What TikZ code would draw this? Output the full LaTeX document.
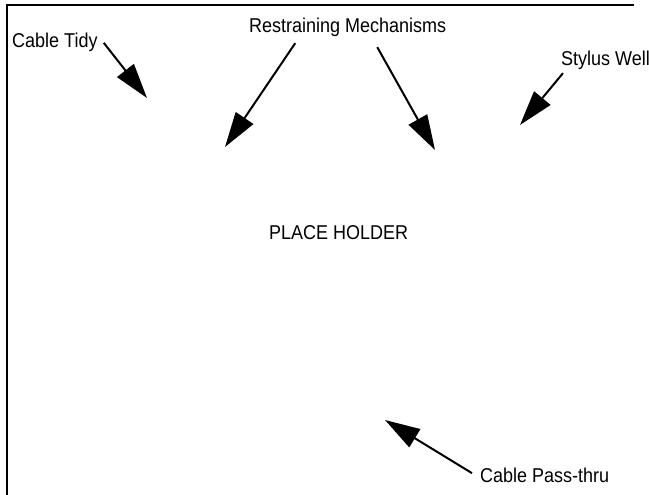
\documentclass[tikz,border=0pt]{standalone}
\usepackage{fontspec}
\setmainfont[FakeStretch=0.9]{Liberation Sans}
\usepackage{tikz}
\usetikzlibrary{arrows.meta,calc,positioning}
\tikzset{
  >={Triangle[length=35pt,width=21pt]},
  frame/.style  ={line width=2pt,black},
  callout/.style={->,line width=2pt,black},
  txt/.style    ={inner sep=0pt,font=\fontsize{20}{24}\selectfont},
}

\begin{document}
\begin{tikzpicture}[x=1pt,y=-1pt]
  \useasboundingbox (0,0) rectangle (649,495);
  \draw[frame] (6.7,496) -- (6.7,4.7) -- (634,4.7);
  \node[txt,anchor=base west] (tidy)   at (12,48)     {Cable Tidy};
  \node[txt,anchor=base west] (mech)   at (249,33)    {Restraining Mechanisms};
  \node[txt,anchor=base west] (stylus) at (561,65.5)  {Stylus Well};
  \node[txt,anchor=base west] (holder) at (269,240)   {PLACE HOLDER};
  \node[txt,anchor=base west] (pass)   at (480,482.3) {Cable Pass-thru};
  \coordinate (tidyTip)   at (147,98);
  \coordinate (mechTipL)  at (225,147);
  \coordinate (mechTipR)  at (435,150);
  \coordinate (stylusTip) at (520,125);
  \coordinate (passTip)   at (385,420);
  \draw[callout] ([xshift=6pt]tidy.east) -- (tidyTip);
  \draw[callout] ([xshift=-52.5pt,yshift=-5.8pt]mech.south) -- (mechTipL);
  \draw[callout] ([xshift=29.5pt,yshift=-9.8pt]mech.south) -- (mechTipR);
  \draw[callout] ([xshift=2pt,yshift=-3.3pt]stylus.south west) -- (stylusTip);
  \draw[callout] ([xshift=-8pt,yshift=2pt]pass.west) -- (passTip);
\end{tikzpicture}
\end{document}
